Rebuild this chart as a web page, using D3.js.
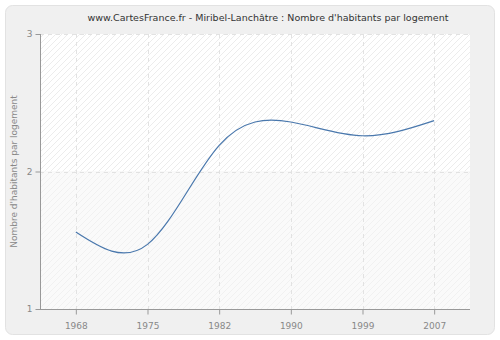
<!DOCTYPE html>
<html>
<head>
<meta charset="utf-8">
<script src="https://cdn.jsdelivr.net/npm/d3@7"></script>
<style>
  body { margin: 0; background: #fff; }
  svg { display: block; font-family: "DejaVu Sans", Verdana, sans-serif; }
</style>
</head>
<body>
<svg width="500" height="340"></svg>
<script>
let years = ["1968", "1975", "1982", "1990", "1999", "2007"];
let values = [1.56, 1.47, 2.19, 2.36, 2.26, 2.37];
let yTicks = [1, 2, 3];
let title = "www.CartesFrance.fr - Miribel-Lanchâtre : Nombre d'habitants par logement";
let yLabel = "Nombre d'habitants par logement";

let svg = d3.select("svg"),
    width = 500,
    height = 340;

let plotLeft = 40, plotRight = 470, plotTop = 34, plotBottom = 309;

let x = d3.scalePoint().domain(years).range([plotLeft, plotRight]).padding(0.5);
let y = d3.scaleLinear().domain([1, 3]).range([plotBottom, plotTop]);

// hatch pattern
let defs = svg.append("defs");
defs.append("pattern")
    .attr("id", "hatch")
    .attr("patternUnits", "userSpaceOnUse")
    .attr("width", 6).attr("height", 6)
  .append("path")
    .attr("d", "M-1,7 L7,-1 M-1,1 L1,-1 M5,7 L7,5")
    .attr("stroke", "#ececec")
    .attr("stroke-width", 1);
defs.append("pattern")
    .attr("id", "hatch2")
    .attr("patternUnits", "userSpaceOnUse")
    .attr("width", 6).attr("height", 6)
  .append("path")
    .attr("d", "M-1,7 L7,-1 M-1,1 L1,-1 M5,7 L7,5")
    .attr("stroke", "#f1f1f1")
    .attr("stroke-width", 1);

// outer frame
svg.append("rect")
    .attr("x", 5.5).attr("y", 5.5)
    .attr("width", 489).attr("height", 329)
    .attr("rx", 7)
    .attr("fill", "#f0f0f0")
    .attr("stroke", "#e2e2e2");

// plot bands
svg.append("rect")
    .attr("x", plotLeft).attr("y", y(3))
    .attr("width", plotRight - plotLeft).attr("height", y(2) - y(3))
    .attr("fill", "#fff");
svg.append("rect")
    .attr("x", plotLeft).attr("y", y(3))
    .attr("width", plotRight - plotLeft).attr("height", y(2) - y(3))
    .attr("fill", "url(#hatch)");
svg.append("rect")
    .attr("x", plotLeft).attr("y", y(2))
    .attr("width", plotRight - plotLeft).attr("height", y(1) - y(2))
    .attr("fill", "#fafafa");
svg.append("rect")
    .attr("x", plotLeft).attr("y", y(2))
    .attr("width", plotRight - plotLeft).attr("height", y(1) - y(2))
    .attr("fill", "url(#hatch2)");

// grid
svg.append("g").selectAll("line")
  .data(years)
  .join("line")
    .attr("x1", d => Math.round(x(d)) + 0.5)
    .attr("x2", d => Math.round(x(d)) + 0.5)
    .attr("y1", plotTop).attr("y2", plotBottom)
    .attr("stroke", "#e2e2e2")
    .attr("stroke-dasharray", "4,4");
svg.append("g").selectAll("line")
  .data(yTicks.slice(1))
  .join("line")
    .attr("x1", plotLeft).attr("x2", plotRight)
    .attr("y1", d => Math.round(y(d)) + 0.5)
    .attr("y2", d => Math.round(y(d)) + 0.5)
    .attr("stroke", "#e2e2e2")
    .attr("stroke-dasharray", "4,4");

// axes
let xAxis = svg.append("g")
    .attr("transform", `translate(0,${plotBottom + 0.5})`)
    .call(d3.axisBottom(x).tickSize(5).tickSizeOuter(0));
let yAxis = svg.append("g")
    .attr("transform", `translate(${plotLeft + 0.5},0)`)
    .call(d3.axisLeft(y).tickValues(yTicks).tickFormat(d3.format("d")).tickSize(5).tickSizeOuter(0));

[xAxis, yAxis].forEach(a => {
  a.select(".domain").attr("stroke", "#999");
  a.selectAll(".tick line").attr("stroke", "#999");
  a.selectAll(".tick text").attr("fill", "#888").attr("font-size", 9)
    .attr("font-family", "DejaVu Sans");
});
xAxis.selectAll(".tick text").attr("dy", "1.25em");
yAxis.select(".domain").attr("d", `M0,${plotTop}V${plotBottom}`);
xAxis.select(".domain").attr("d", `M${plotLeft},0H${plotRight}`);

// line
let line = d3.line()
    .x((d, i) => x(years[i]))
    .y(d => y(d))
    .curve(d3.curveNatural);

svg.append("path")
    .datum(values)
    .attr("d", line)
    .attr("fill", "none")
    .attr("stroke", "#4a78ad")
    .attr("stroke-width", 1.2);

// title
svg.append("text")
    .attr("x", 268).attr("y", 21)
    .attr("text-anchor", "middle")
    .attr("font-size", 9.5)
    .attr("fill", "#333")
    .text(title);

// y label
svg.append("text")
    .attr("transform", `translate(17,${(plotTop + plotBottom) / 2}) rotate(-90)`)
    .attr("text-anchor", "middle")
    .attr("font-size", 9)
    .attr("fill", "#888")
    .text(yLabel);
</script>
</body>
</html>
